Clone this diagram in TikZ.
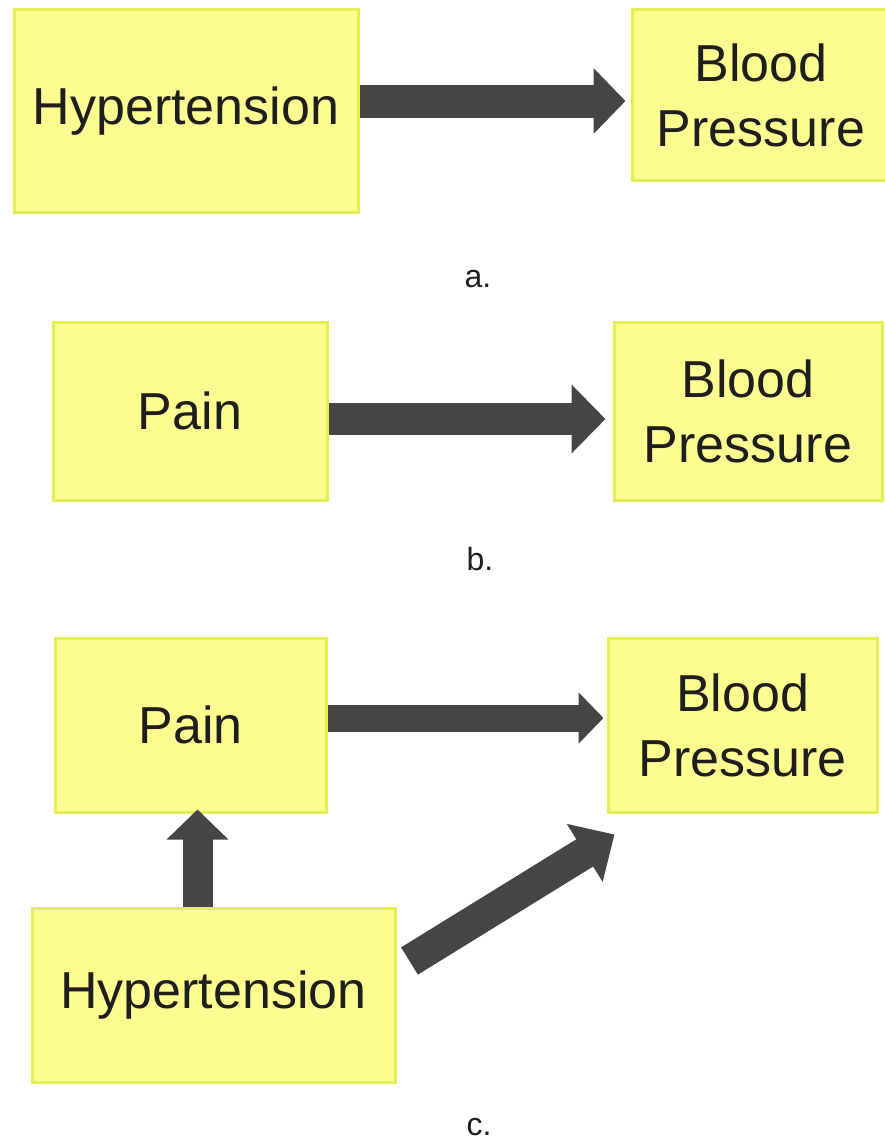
\documentclass[tikz,border=0pt]{standalone}
\usepackage{fontspec}
\setmainfont{Liberation Sans}
\usetikzlibrary{arrows.meta, calc}
\definecolor{boxfill}{HTML}{FCFC90}
\definecolor{boxline}{HTML}{E4EE55}
\definecolor{arrowgray}{HTML}{454545}
\definecolor{textgray}{HTML}{1E1E1E}
\tikzset{
  factor/.style={draw=boxline, fill=boxfill, line width=3pt, inner sep=0pt,
    text=textgray, align=center, font=\fontsize{52}{65}\selectfont},
  caption/.style={anchor=base, text=textgray, font=\fontsize{32}{38}\selectfont},
  fat/.style={draw=arrowgray, line width=#1}
}
\begin{document}
\begin{tikzpicture}[x=1pt, y=-1pt]
\useasboundingbox (0, 0) rectangle (885, 1140);
% a.
\node at (186, 111) (hypA) [factor, minimum width=344, minimum height=202] {Hypertension};
\node at (761, 95) (bpA) [factor, minimum width=258, minimum height=170] {Blood\\Pressure};
\draw[fat=33pt, -{Triangle[width=64pt, length=32pt]}] ([yshift=10pt]hypA.east) -- ([yshift=10pt, xshift=-5pt]hypA.east -| bpA.west);
\node at (478, 287) (capA) [caption] {a.};
% b.
\node at (190, 411) (painB) [factor, minimum width=274, minimum height=178] {Pain};
\node at (748, 411) (bpB) [factor, minimum width=268, minimum height=178] {Blood\\Pressure};
\draw[fat=32pt, -{Triangle[width=67pt, length=34pt]}] ([yshift=-8pt]painB.east) -- ([yshift=-8pt, xshift=-7pt]painB.east -| bpB.west);
\node at (480, 570) (capB) [caption] {b.};
% c.
\node at (190.5, 725) (painC) [factor, minimum width=271, minimum height=174] {Pain};
\node at (742.5, 725) (bpC) [factor, minimum width=269, minimum height=174] {Blood\\Pressure};
\node at (213.5, 995) (hypC) [factor, minimum width=363, minimum height=174] {Hypertension};
\coordinate (dtail) at ($(hypC.east)+(13, -34)$);
\coordinate (dhead) at ($(bpC.south west)+(8, 21)$);
\draw[fat=27pt, -{Triangle[width=50pt, length=25pt]}] ([yshift=7pt]painC.east) -- ([yshift=7pt, xshift=-3pt]painC.east -| bpC.west);
\draw[fat=30pt, -{Triangle[width=60pt, length=30pt]}] ([xshift=-16pt]hypC.north) -- ([xshift=-16pt, yshift=4pt]hypC.north |- painC.south);
\draw[fat=32pt, -{Triangle[width=66pt, length=35pt]}] (dtail) -- (dhead);
\node at (479, 1135) (capC) [caption] {c.};
\end{tikzpicture}
\end{document}
